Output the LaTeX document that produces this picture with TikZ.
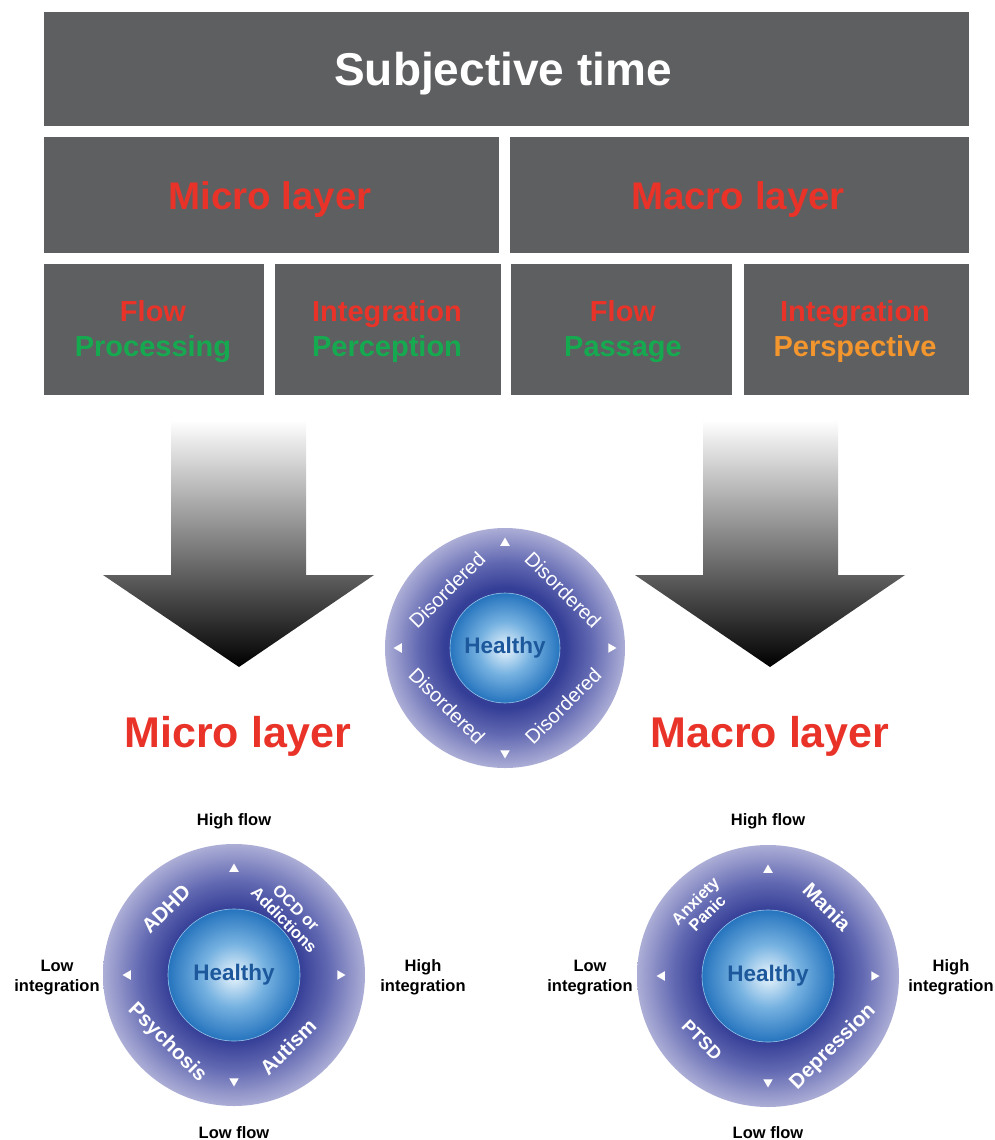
\documentclass[tikz,border=0pt]{standalone}
\usepackage{fontspec}
\setmainfont{Liberation Sans}
\usetikzlibrary{shapes.geometric,calc}

\definecolor{boxgray}{RGB}{94,95,97}
\definecolor{tred}{RGB}{233,51,41}
\definecolor{tgreen}{RGB}{22,170,80}
\definecolor{torange}{RGB}{243,150,45}
\definecolor{hblue}{RGB}{28,88,155}
\definecolor{ringdark}{RGB}{52,62,150}
\definecolor{ringmid}{RGB}{98,105,178}
\definecolor{ringlight}{RGB}{172,174,214}
\definecolor{corelight}{RGB}{234,245,252}
\definecolor{coremid}{RGB}{118,178,225}
\definecolor{coredark}{RGB}{38,116,190}
\definecolor{coreedge}{RGB}{150,195,232}

\pgfdeclareradialshading{ringshade}{\pgfpoint{0bp}{0bp}}{color(0bp)=(ringdark); color(12.5bp)=(ringdark); color(18bp)=(ringmid); color(25bp)=(ringlight); color(50bp)=(ringlight)}
\pgfdeclareradialshading{coreshade}{\pgfpoint{0bp}{0bp}}{color(0bp)=(corelight); color(12bp)=(coremid); color(25bp)=(coredark); color(50bp)=(coredark)}

\newcommand{\fsz}[1]{\fontsize{#1}{#1}\selectfont}

\tikzset{
  greybox/.style={fill=boxgray, draw=none, inner sep=0pt},
  boxtxt/.style={anchor=base, inner sep=0pt, font=\bfseries\fsz{29}},
  bigtxt/.style={anchor=base, inner sep=0pt, text=tred, font=\bfseries\fsz{43}},
  dis/.style={text=white, inner sep=0pt, font=\fsz{20}},
  dlab/.style={text=white, inner sep=0pt, font=\bfseries\fsz{20.5}},
  dsmall/.style={text=white, inner sep=0pt, align=center, font=\bfseries\fontsize{16.5}{17}\selectfont},
  healthy/.style={text=hblue, inner sep=0pt, font=\bfseries\fsz{22.5}},
  axlab/.style={anchor=base, inner sep=0pt, align=center, font=\bfseries\fontsize{16.5}{20}\selectfont},
  tri/.style={regular polygon, regular polygon sides=3, fill=white, draw=none, inner sep=0pt, minimum size=11pt},
  arrowshade/.style={top color=white, bottom color=black, draw=none}
}

\begin{document}
\begin{tikzpicture}[x=1pt,y=-1pt]
\useasboundingbox (0,0) rectangle (995,1140);

% ---------- top boxes ----------
\node[greybox, minimum width=925pt, minimum height=114pt] (top) at (506.5,69) {};
\node[greybox, minimum width=455pt, minimum height=116pt] (micro) at (271.5,195) {};
\node[greybox, minimum width=459pt, minimum height=116pt] (macro) at (739.5,195) {};
\node[greybox, minimum width=220pt, minimum height=131pt] (fp) at (154,329.5) {};
\node[greybox, minimum width=226pt, minimum height=131pt] (ip) at (388,329.5) {};
\node[greybox, minimum width=221pt, minimum height=131pt] (fpa) at (621.5,329.5) {};
\node[greybox, minimum width=225pt, minimum height=131pt] (ipe) at (856.5,329.5) {};

\node[anchor=base, inner sep=0pt, text=white, font=\bfseries\fsz{46}] (ttl) at (503,85) {Subjective time};
\node[bigtxt, font=\bfseries\fsz{38.5}] (microt) at (270,209) {Micro layer};
\node[bigtxt, font=\bfseries\fsz{38.5}] (macrot) at (738,209) {Macro layer};

\node[boxtxt, text=tred] (fp1) at (153,321) {Flow};
\node[boxtxt, text=tgreen] (fp2) at (153,356) {Processing};
\node[boxtxt, text=tred] (ip1) at (387,321) {Integration};
\node[boxtxt, text=tgreen] (ip2) at (387,356) {Perception};
\node[boxtxt, text=tred] (fpa1) at (623,321) {Flow};
\node[boxtxt, text=tgreen] (fpa2) at (623,356) {Passage};
\node[boxtxt, text=tred] (ipe1) at (855,321) {Integration};
\node[boxtxt, text=torange] (ipe2) at (855,356) {Perspective};

% ---------- arrows ----------
\shade[arrowshade] (171,420) -- (306,420) -- (306,575) -- (374,575) -- (239,667) -- (103,575) -- (171,575) -- cycle;
\shade[arrowshade] (703,420) -- (838,420) -- (838,575) -- (905,575) -- (770,667) -- (635,575) -- (703,575) -- cycle;

% ---------- central circle ----------
\coordinate (cc) at (505,648);
\shade[shading=ringshade] (cc) circle[radius=120pt];
\shadedraw[shading=coreshade, draw=coreedge, line width=0.6pt] (cc) circle[radius=55pt];
\node[healthy] (hc) at (cc) {Healthy};
\node[dis, rotate=45]  (d1) at ($(cc)+(-58,-58)$) {Disordered};
\node[dis, rotate=-45] (d2) at ($(cc)+(58,-58)$) {Disordered};
\node[dis, rotate=-45] (d3) at ($(cc)+(-58,58)$) {Disordered};
\node[dis, rotate=45]  (d4) at ($(cc)+(58,58)$) {Disordered};
\node[tri] (ct) at ($(cc)+(0,-105)$) {};
\node[tri, rotate=180] (cb) at ($(cc)+(0,105)$) {};
\node[tri, rotate=90] (cl) at ($(cc)+(-106,0)$) {};
\node[tri, rotate=-90] (cr) at ($(cc)+(106,0)$) {};

% ---------- big layer titles ----------
\node[bigtxt] (microb) at (238,747) {Micro layer};
\node[bigtxt] (macrob) at (770,747) {Macro layer};

% ---------- left circle ----------
\coordinate (lc) at (234,975);
\shade[shading=ringshade] (lc) circle[radius=131pt];
\shadedraw[shading=coreshade, draw=coreedge, line width=0.6pt] (lc) circle[radius=66pt];
\node[healthy] (hl) at (lc) {Healthy};
\node[dlab, rotate=45] (adhd) at (166,909) {ADHD};
\node[dsmall, rotate=-45] (ocd) at (290,914) {OCD or\\Addictions};
\node[dlab, rotate=-45] (psy) at (167,1043) {Psychosis};
\node[dlab, rotate=45] (aut) at (288,1047) {Autism};
\node[tri] (lt) at ($(lc)+(0,-106)$) {};
\node[tri, rotate=180] (lb) at ($(lc)+(0,106)$) {};
\node[tri, rotate=90] (ll) at ($(lc)+(-106,0)$) {};
\node[tri, rotate=-90] (lr) at ($(lc)+(106,0)$) {};
\node[axlab] (lhf) at (234,825) {High flow};
\node[axlab] (llf) at (234,1138) {Low flow};
\node[axlab] (lli) at (57,991) {Low\\integration};
\node[axlab] (lhi) at (423,991) {High\\integration};

% ---------- right circle ----------
\coordinate (rc) at (768,976);
\shade[shading=ringshade] (rc) circle[radius=131pt];
\shadedraw[shading=coreshade, draw=coreedge, line width=0.6pt] (rc) circle[radius=66pt];
\node[healthy] (hr) at (rc) {Healthy};
\node[dsmall, rotate=45] (anx) at (701,907) {Anxiety\\Panic};
\node[dlab, rotate=-45] (man) at (827,907) {Mania};
\node[dlab, rotate=-45, font=\bfseries\fsz{18}] (ptsd) at (702,1040) {PTSD};
\node[dlab, rotate=45] (dep) at (833,1047) {Depression};
\node[tri] (rt) at ($(rc)+(0,-106)$) {};
\node[tri, rotate=180] (rb) at ($(rc)+(0,106)$) {};
\node[tri, rotate=90] (rl) at ($(rc)+(-106,0)$) {};
\node[tri, rotate=-90] (rr) at ($(rc)+(106,0)$) {};
\node[axlab] (rhf) at (768,825) {High flow};
\node[axlab] (rlf) at (768,1138) {Low flow};
\node[axlab] (rli) at (590,991) {Low\\integration};
\node[axlab] (rhi) at (951,991) {High\\integration};
\end{tikzpicture}
\end{document}
